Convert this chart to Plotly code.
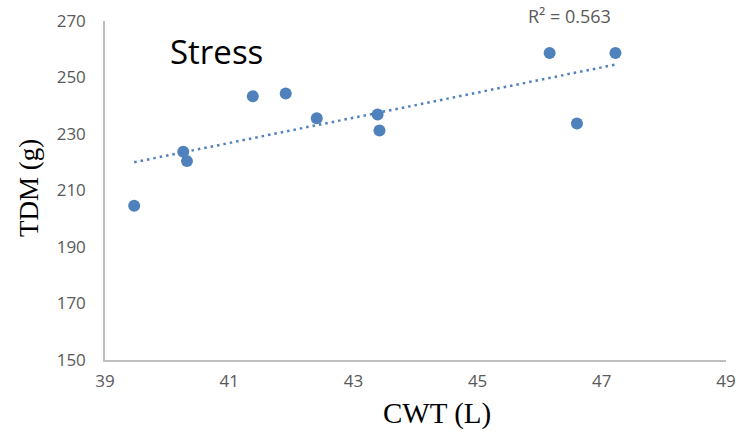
import numpy as np
import plotly.graph_objects as go

# Canopy water transpiration (L) vs total dry matter (g) under stress
cwt = [39.47, 40.26, 40.32, 41.38, 41.91, 42.41, 43.39, 43.42, 46.16, 46.60, 47.22]
tdm = [204.6, 223.7, 220.4, 243.4, 244.3, 235.6, 236.9, 231.2, 258.7, 233.7, 258.7]

x_ticks = [39, 41, 43, 45, 47, 49]
y_ticks = [150, 170, 190, 210, 230, 250, 270]

# Coefficient of determination reported for the linear fit
r_squared = 0.563

point_color = "#4F81BD"
axis_color = "#BFBFBF"
tick_color = "#595959"

# Linear least-squares trend line
x_arr = np.array(cwt)
y_arr = np.array(tdm)
slope, intercept = np.polyfit(x_arr, y_arr, 1)
trend_x = np.array([x_arr.min(), x_arr.max()])
trend_y = slope * trend_x + intercept

fig = go.Figure()
fig.add_trace(go.Scatter(
    x=trend_x, y=trend_y, mode="lines",
    line=dict(color=point_color, width=2.5, dash="2.5px,4px"),
    hoverinfo="skip", showlegend=False,
))
fig.add_trace(go.Scatter(
    x=cwt, y=tdm, mode="markers",
    marker=dict(color=point_color, size=12, line=dict(width=0)),
    showlegend=False,
))

fig.update_layout(
    width=742, height=432,
    margin=dict(l=105, r=16, t=21, b=72),
    paper_bgcolor="white", plot_bgcolor="white",
    font=dict(family="Open Sans", color=tick_color),
    xaxis=dict(
        range=[39, 49], tickvals=x_ticks, ticktext=[str(v) for v in x_ticks],
        showgrid=False, zeroline=False, showline=True, automargin=False,
        linecolor=axis_color, linewidth=1.5, ticks="",
        tickfont=dict(family="Open Sans", size=17, color=tick_color),
        ticklabelstandoff=5,
    ),
    yaxis=dict(
        range=[150, 270], tickvals=y_ticks, ticktext=[str(v) for v in y_ticks],
        showgrid=False, zeroline=False, showline=True, automargin=False,
        linecolor=axis_color, linewidth=1.5, ticks="",
        tickfont=dict(family="Open Sans", size=17, color=tick_color),
        ticklabelstandoff=14,
    ),
    annotations=[
        dict(text="Stress", x=216, y=52,
             font=dict(family="Open Sans", size=33, color="black")),
        dict(text="R² = %.3f" % r_squared, x=569, y=16,
             font=dict(family="Open Sans", size=18, color=tick_color)),
        dict(text="CWT (L)", x=437, y=413,
             font=dict(family="Liberation Serif", size=29, color="black")),
        dict(text="TDM (g)", x=29, y=188, textangle=-90,
             font=dict(family="Liberation Serif", size=27, color="black")),
    ],
)

# Convert pixel anchors of the annotations into paper coordinates
plot_l, plot_r, plot_t, plot_b = 105, 726, 21, 360
for ann in fig.layout.annotations:
    px, py = ann.x, ann.y
    ann.showarrow = False
    ann.xref = "paper"
    ann.yref = "paper"
    ann.x = (px - plot_l) / (plot_r - plot_l)
    ann.y = (plot_b - py) / (plot_b - plot_t)
    ann.xanchor = "center"
    ann.yanchor = "middle"

fig.write_html("out.html")
